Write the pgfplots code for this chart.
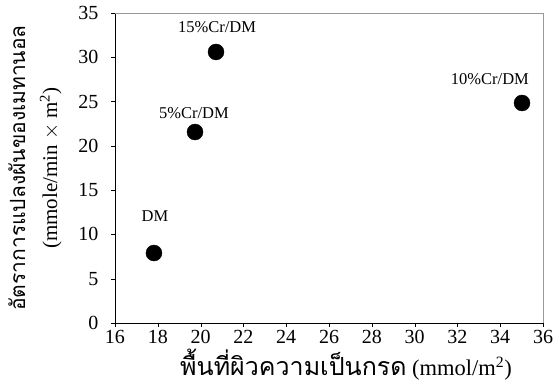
\documentclass[border=0pt]{standalone}
\usepackage{fontspec}
\setmainfont{Liberation Serif}
\newfontfamily\thaifont[Script=Thai]{Loma}
\usepackage{pgfplots}
\pgfplotsset{compat=1.18}
\begin{document}
\begin{tikzpicture}
\begin{axis}[
  scale only axis,
  width=428pt, height=310pt,
  xmin=16, xmax=36, ymin=0, ymax=35,
  xtick={16,18,...,36}, ytick={0,5,...,35},
  axis x line*=bottom, axis y line*=left,
  axis line style={-, black},
  tick align=outside,
  major tick length=4pt,
  tick style={black},
  /pgf/number format/assume math mode=true,
  ticklabel style={font=\fontsize{20}{22}\selectfont},
  yticklabel style={xshift=-9pt},
  xlabel={{\fontsize{25}{28}\thaifont พื้นที่ผิวความเป็นกรด} (mmol/m\textsuperscript{2})},
  ylabel={{\fontsize{21}{24}\thaifont อัตราการแปลงผันของเมทานอล}\\(mmole/min $\times$ m\textsuperscript{2})},
  xlabel style={font=\fontsize{22.5}{24}\selectfont, yshift=2pt, xshift=17pt},
  ylabel style={font=\fontsize{21}{32}\selectfont, align=center, yshift=10pt},
  clip=false,
]
\addplot[only marks, mark=*, mark size=8pt, black] coordinates {
  (17.82,7.9) (19.74,21.56) (20.72,30.6) (35.02,24.84)
};
\node[font=\fontsize{16.5}{18}\selectfont] at (axis cs:17.87,12.1) {DM};
\node[font=\fontsize{16.5}{18}\selectfont] at (axis cs:19.69,23.7) {5\%Cr/DM};
\node[font=\fontsize{16.5}{18}\selectfont] at (axis cs:20.77,33.4) {15\%Cr/DM};
\node[font=\fontsize{16.5}{18}\selectfont] at (axis cs:33.52,27.5) {10\%Cr/DM};
\draw[gray!80] (rel axis cs:0,1) -- (rel axis cs:1,1) -- (rel axis cs:1,0);
\end{axis}
\pgfresetboundingbox
\path ([shift={(-115pt,-64pt)}]current axis.south west) rectangle ([shift={(10pt,13pt)}]current axis.north east);
\end{tikzpicture}
\end{document}
